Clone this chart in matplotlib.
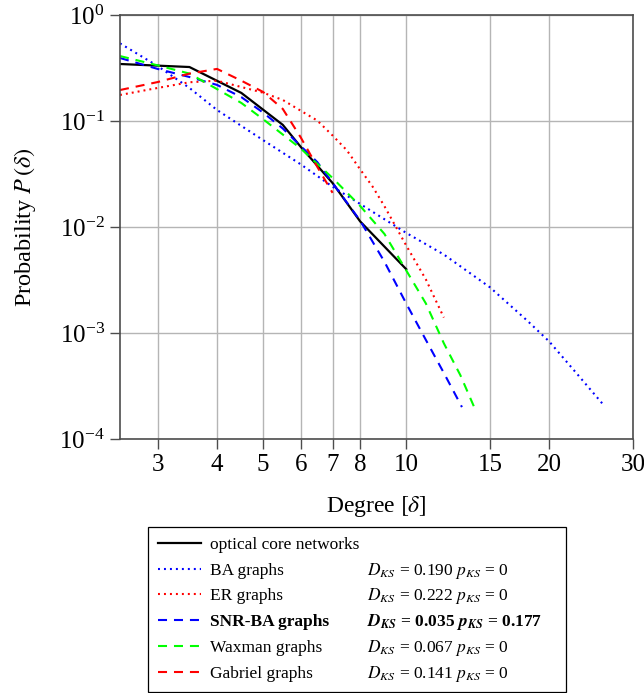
import matplotlib
matplotlib.use("Agg")
import matplotlib.pyplot as plt
from matplotlib.ticker import NullLocator

plt.rcParams['font.family'] = ['Liberation Serif', 'DejaVu Serif']
plt.rcParams['mathtext.fontset'] = 'stix'
plt.rcParams['lines.scale_dashes'] = False

# degree distributions
deg_core = [2.5, 3.5, 4.5, 5.5, 6, 7, 8, 10]
p_core = [0.345, 0.323, 0.184, 0.092, 0.057, 0.026, 0.0113, 0.0040]

deg_ba = [2.5, 3, 3.5, 4, 5, 6, 7, 8, 10, 12, 15, 18, 20, 23, 26]
p_ba = [0.54, 0.33, 0.205, 0.127, 0.066, 0.039, 0.024, 0.0165, 0.0088,
        0.0055, 0.0027, 0.0013, 0.00083, 0.0004, 0.00021]

deg_er = [2.5, 3, 3.5, 4, 5, 5.5, 6, 6.5, 7, 7.5, 8, 8.5, 9, 10, 11, 12]
p_er = [0.176, 0.205, 0.232, 0.24, 0.185, 0.158, 0.125, 0.101, 0.073,
        0.053, 0.035, 0.024, 0.0157, 0.0067, 0.0032, 0.0014]

deg_snr = [2.5, 3, 3.5, 4, 4.5, 5, 5.5, 6, 6.5, 7, 8, 9, 10, 11, 12, 13.1]
p_snr = [0.393, 0.31, 0.26, 0.219, 0.168, 0.12, 0.085, 0.058, 0.041, 0.026,
         0.0115, 0.0047, 0.0019, 0.00086, 0.00042, 0.0002]

deg_wax = [2.5, 3, 3.5, 4, 4.5, 5, 6, 7, 8, 9, 10, 11, 12, 13, 13.9]
p_wax = [0.41, 0.335, 0.28, 0.2, 0.148, 0.104, 0.055, 0.029, 0.0158, 0.0086,
         0.0039, 0.0019, 0.0008, 0.0004, 0.0002]

deg_gab = [2.5, 3, 3.5, 4, 4.5, 5, 5.5, 6, 6.5, 7]
p_gab = [0.196, 0.233, 0.28, 0.31, 0.24, 0.188, 0.13, 0.07, 0.037, 0.021]

labels = ['optical core networks', 'BA graphs', 'ER graphs', 'SNR-BA graphs',
          'Waxman graphs', 'Gabriel graphs']
stats = [None,
         r'$D_{KS}$ = 0.190 $p_{KS}$ = 0',
         r'$D_{KS}$ = 0.222 $p_{KS}$ = 0',
         r'$\mathbfit{D}_{\mathbfit{KS}}$ = 0.035 $\mathbfit{p}_{\mathbfit{KS}}$ = 0.177',
         r'$D_{KS}$ = 0.067 $p_{KS}$ = 0',
         r'$D_{KS}$ = 0.141 $p_{KS}$ = 0']

xticks = [3, 4, 5, 6, 7, 8, 10, 15, 20, 30]

dotted = (0, (1.4, 2.9))
dashed = (0, (6.5, 5))

fig = plt.figure(figsize=(6.44, 6.93), dpi=100)
ax = fig.add_axes([120 / 644, 1 - 439 / 693, 513 / 644, 424 / 693])

lines = []
lines += ax.plot(deg_core, p_core, color='black', lw=1.6)
lines += ax.plot(deg_ba, p_ba, color='#0000ff', lw=1.5, ls=dotted)
lines += ax.plot(deg_er, p_er, color='#ff0000', lw=1.5, ls=dotted)
lines += ax.plot(deg_snr, p_snr, color='#0000ff', lw=1.5, ls=dashed)
lines += ax.plot(deg_wax, p_wax, color='#00ff00', lw=1.5, ls=dashed)
lines += ax.plot(deg_gab, p_gab, color='#ff0000', lw=1.5, ls=dashed)

ax.set_xscale('log')
ax.set_yscale('log')
ax.set_xlim(2.5, 30)
ax.set_ylim(1e-4, 1)
ax.set_xticks(xticks)
ax.set_xticklabels([str(t) for t in xticks])
ax.xaxis.set_minor_locator(NullLocator())
ax.yaxis.set_minor_locator(NullLocator())
ax.grid(True, color='#b5b5b5', lw=1.0)
ax.set_axisbelow(True)
ax.tick_params(direction='out', length=7, width=1, color='#4d4d4d',
               labelsize=18, pad=4)
for s in ax.spines.values():
    s.set_color('#4d4d4d')
    s.set_linewidth(1.2)

ax.set_xlabel(r'Degree $[\delta]$', fontsize=17)
ax.set_ylabel(r'Probability $P\,(\delta)$', fontsize=17.5)
ax.xaxis.set_label_coords(0.5, -0.13)
ax.yaxis.set_label_coords(-0.16, 0.5)

leg = fig.legend(lines, labels, loc='upper left',
                 bbox_to_anchor=(148 / 644, 1 - 527 / 693, 418 / 644, 0),
                 mode='expand', borderaxespad=0, fontsize=12.5,
                 fancybox=False, edgecolor='black', framealpha=1,
                 handlelength=2.5, handletextpad=0.5, borderpad=0.55,
                 labelspacing=0.56)
leg.get_frame().set_linewidth(0.9)
leg.get_texts()[3].set_fontweight('bold')

fig.canvas.draw()
for txt, st in zip(leg.get_texts(), stats):
    if st is None:
        continue
    bb = txt.get_window_extent()
    yc = (bb.y0 + bb.y1) / 2 / fig.bbox.height
    fig.text(367 / 644, yc, st, fontsize=12.5, va='center',
             fontweight=txt.get_fontweight(), zorder=10)

fig.savefig('out.png', dpi=100)
